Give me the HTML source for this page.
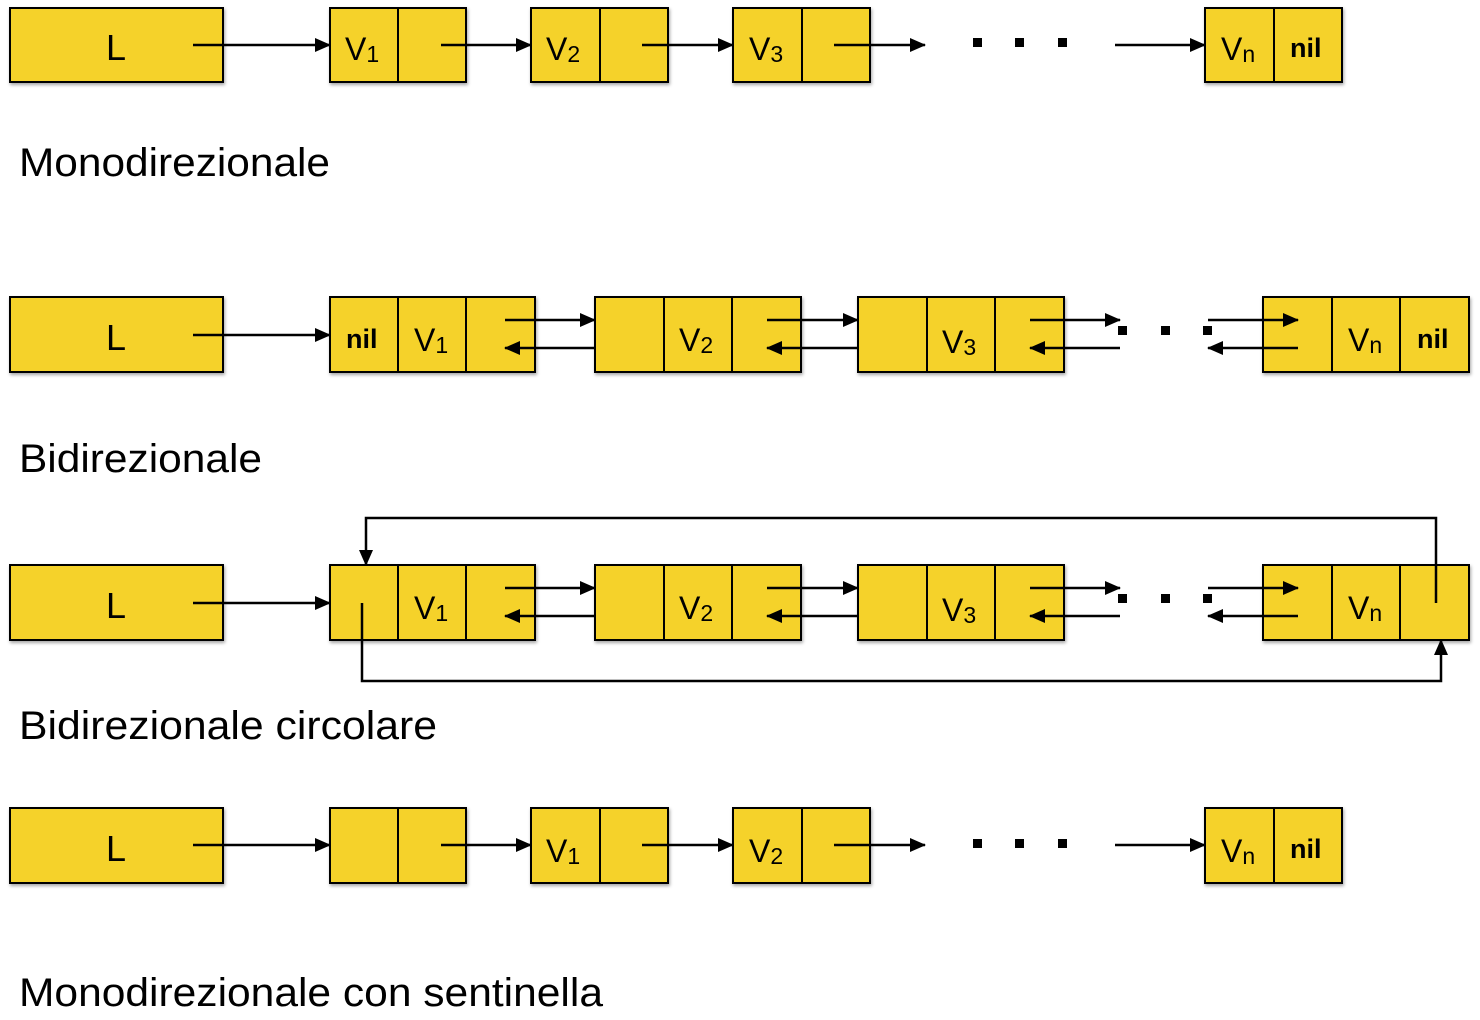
<!DOCTYPE html>
<html><head><meta charset="utf-8"><style>
html,body{margin:0;padding:0;background:#fff;}
svg text{font-family:"Liberation Sans",sans-serif;}
</style></head><body>
<svg width="1480" height="1015" viewBox="0 0 1480 1015" xmlns="http://www.w3.org/2000/svg">
<defs>
<filter id="sh" x="-5%" y="-10%" width="110%" height="130%"><feDropShadow dx="1" dy="2" stdDeviation="1.5" flood-color="#000" flood-opacity="0.35"/></filter>
<marker id="a" markerWidth="16" markerHeight="14" refX="15" refY="7" orient="auto" markerUnits="userSpaceOnUse"><path d="M0,0 L16,7 L0,14 z" fill="#000"/></marker>
</defs>
<g fill="#f5d22a" stroke="#000" stroke-width="2" filter="url(#sh)">
<rect x="10" y="8" width="213" height="74"/>
<rect x="330" y="8" width="136" height="74"/><rect x="531" y="8" width="137" height="74"/><rect x="733" y="8" width="137" height="74"/><rect x="1205" y="8" width="137" height="74"/>
<rect x="10" y="297" width="213" height="75"/>
<rect x="330" y="297" width="205" height="75"/><rect x="595" y="297" width="206" height="75"/><rect x="858" y="297" width="206" height="75"/><rect x="1263" y="297" width="206" height="75"/>
<rect x="10" y="565" width="213" height="75"/>
<rect x="330" y="565" width="205" height="75"/><rect x="595" y="565" width="206" height="75"/><rect x="858" y="565" width="206" height="75"/><rect x="1263" y="565" width="206" height="75"/>
<rect x="10" y="808" width="213" height="75"/>
<rect x="330" y="808" width="136" height="75"/><rect x="531" y="808" width="137" height="75"/><rect x="733" y="808" width="137" height="75"/><rect x="1205" y="808" width="137" height="75"/>
</g>
<g stroke="#000" stroke-width="2">
<line x1="398" y1="8" x2="398" y2="82"/><line x1="600" y1="8" x2="600" y2="82"/><line x1="802" y1="8" x2="802" y2="82"/><line x1="1274" y1="8" x2="1274" y2="82"/>
<line x1="398" y1="297" x2="398" y2="372"/><line x1="466" y1="297" x2="466" y2="372"/>
<line x1="664" y1="297" x2="664" y2="372"/><line x1="732" y1="297" x2="732" y2="372"/>
<line x1="927" y1="297" x2="927" y2="372"/><line x1="995" y1="297" x2="995" y2="372"/>
<line x1="1332" y1="297" x2="1332" y2="372"/><line x1="1400" y1="297" x2="1400" y2="372"/>
<line x1="398" y1="565" x2="398" y2="640"/><line x1="466" y1="565" x2="466" y2="640"/>
<line x1="664" y1="565" x2="664" y2="640"/><line x1="732" y1="565" x2="732" y2="640"/>
<line x1="927" y1="565" x2="927" y2="640"/><line x1="995" y1="565" x2="995" y2="640"/>
<line x1="1332" y1="565" x2="1332" y2="640"/><line x1="1400" y1="565" x2="1400" y2="640"/>
<line x1="398" y1="808" x2="398" y2="883"/><line x1="600" y1="808" x2="600" y2="883"/><line x1="802" y1="808" x2="802" y2="883"/><line x1="1274" y1="808" x2="1274" y2="883"/>
</g>
<g stroke="#000" stroke-width="2.5" fill="none" marker-end="url(#a)">
<line x1="193" y1="45" x2="330" y2="45"/><line x1="441" y1="45" x2="531" y2="45"/><line x1="642" y1="45" x2="733" y2="45"/><line x1="834" y1="45" x2="925" y2="45"/><line x1="1115" y1="45" x2="1205" y2="45"/>
<line x1="193" y1="335" x2="330" y2="335"/>
<line x1="505" y1="320" x2="595" y2="320"/><line x1="595" y1="348" x2="505" y2="348"/>
<line x1="767" y1="320" x2="858" y2="320"/><line x1="858" y1="348" x2="767" y2="348"/>
<line x1="1030" y1="320" x2="1120" y2="320"/><line x1="1120" y1="348" x2="1030" y2="348"/>
<line x1="1208" y1="320" x2="1298" y2="320"/><line x1="1298" y1="348" x2="1208" y2="348"/>
<line x1="193" y1="603" x2="330" y2="603"/>
<line x1="505" y1="588" x2="595" y2="588"/><line x1="595" y1="616" x2="505" y2="616"/>
<line x1="767" y1="588" x2="858" y2="588"/><line x1="858" y1="616" x2="767" y2="616"/>
<line x1="1030" y1="588" x2="1120" y2="588"/><line x1="1120" y1="616" x2="1030" y2="616"/>
<line x1="1208" y1="588" x2="1298" y2="588"/><line x1="1298" y1="616" x2="1208" y2="616"/>
<polyline points="1436,603 1436,518 366,518 366,565"/>
<polyline points="362,603 362,681 1441,681 1441,640"/>
<line x1="193" y1="845" x2="330" y2="845"/><line x1="441" y1="845" x2="531" y2="845"/><line x1="642" y1="845" x2="733" y2="845"/><line x1="834" y1="845" x2="925" y2="845"/><line x1="1115" y1="845" x2="1205" y2="845"/>
</g>
<g fill="#000">
<rect x="973" y="38" width="9" height="9"/><rect x="1015" y="38" width="9" height="9"/><rect x="1058" y="38" width="9" height="9"/>
<rect x="1118" y="326" width="9" height="9"/><rect x="1161" y="326" width="9" height="9"/><rect x="1203" y="326" width="9" height="9"/>
<rect x="1118" y="594" width="9" height="9"/><rect x="1161" y="594" width="9" height="9"/><rect x="1203" y="594" width="9" height="9"/>
<rect x="973" y="839" width="9" height="9"/><rect x="1015" y="839" width="9" height="9"/><rect x="1058" y="839" width="9" height="9"/>
</g>
<g font-size="32" fill="#000">
<text x="106" y="60" font-size="36">L</text><text x="106" y="350" font-size="36">L</text><text x="106" y="618" font-size="36">L</text><text x="106" y="861" font-size="36">L</text>
<text x="345" y="60">V<tspan font-size="23" dy="2">1</tspan></text>
<text x="546" y="60">V<tspan font-size="23" dy="2">2</tspan></text>
<text x="749" y="60">V<tspan font-size="23" dy="2">3</tspan></text>
<text x="1221" y="60">V<tspan font-size="23" dy="2">n</tspan></text>
<text x="1290" y="57" font-weight="bold" font-size="27">nil</text>
<text x="346" y="348" font-weight="bold" font-size="27">nil</text>
<text x="414" y="351">V<tspan font-size="23" dy="2">1</tspan></text>
<text x="679" y="351">V<tspan font-size="23" dy="2">2</tspan></text>
<text x="942" y="353">V<tspan font-size="23" dy="2">3</tspan></text>
<text x="1348" y="351">V<tspan font-size="23" dy="2">n</tspan></text>
<text x="1417" y="348" font-weight="bold" font-size="27">nil</text>
<text x="414" y="619">V<tspan font-size="23" dy="2">1</tspan></text>
<text x="679" y="619">V<tspan font-size="23" dy="2">2</tspan></text>
<text x="942" y="621">V<tspan font-size="23" dy="2">3</tspan></text>
<text x="1348" y="619">V<tspan font-size="23" dy="2">n</tspan></text>
<text x="546" y="862">V<tspan font-size="23" dy="2">1</tspan></text>
<text x="749" y="862">V<tspan font-size="23" dy="2">2</tspan></text>
<text x="1221" y="862">V<tspan font-size="23" dy="2">n</tspan></text>
<text x="1290" y="858" font-weight="bold" font-size="27">nil</text>
</g>
<g font-size="40" fill="#000">
<text x="19" y="176" textLength="311" lengthAdjust="spacingAndGlyphs">Monodirezionale</text>
<text x="19" y="472" textLength="243" lengthAdjust="spacingAndGlyphs">Bidirezionale</text>
<text x="19" y="739" textLength="418" lengthAdjust="spacingAndGlyphs">Bidirezionale circolare</text>
<text x="19" y="1006" textLength="584" lengthAdjust="spacingAndGlyphs">Monodirezionale con sentinella</text>
</g>
</svg>
</body></html>
